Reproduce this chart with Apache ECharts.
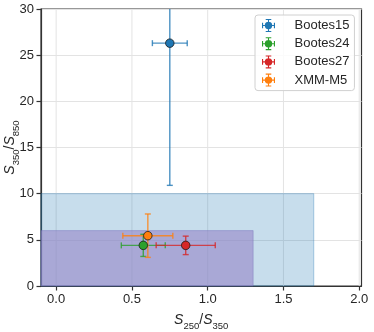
<!DOCTYPE html>
<html>
<head>
<meta charset="utf-8">
<script src="https://cdn.jsdelivr.net/npm/echarts@6/dist/echarts.min.js"></script>
<style>html,body{margin:0;padding:0;background:#fff}#c{width:374px;height:332px}</style>
</head>
<body>
<div id="c"></div>
<script>
// ---- data ----
const names = ['Bootes15', 'Bootes24', 'Bootes27', 'XMM-M5'];
const xVals = [0.75, 0.575, 0.855, 0.605];
const yVals = [26.3, 4.4, 4.4, 5.45];
const xErr = [0.115, 0.145, 0.195, 0.165];
const yErrLow = [15.4, 1.2, 1.0, 2.35];
const yErrHigh = [15.4, 1.2, 1.0, 2.35];
const colors = ['#1f77b4', '#2ca02c', '#d62728', '#ff7f0e'];
// shaded regions: [x0, x1, y0, y1]
const regionX0 = [-0.1, -0.1];
const regionX1 = [1.7, 1.3];
const regionY0 = [0, 0];
const regionY1 = [10, 6];
const regionFill = ['rgba(31,119,180,0.25)', 'rgba(150,135,200,0.62)'];
const regionEdge = ['rgba(31,119,180,0.35)', 'rgba(110,100,180,0.35)'];
const xTicks = [0, 0.5, 1.0, 1.5, 2.0];
const xTickLabels = ['0.0', '0.5', '1.0', '1.5', '2.0'];
const yTicks = [0, 5, 10, 15, 20, 25, 30];

const FONT = 'Liberation Sans';
const TXT = '#262626';

const chart = echarts.init(document.getElementById('c'), null, {renderer: 'canvas'});

const series = [];

// vertical grid lines from x ticks
series.push({
  type: 'custom', silent: true, z: 0,
  data: xTicks.map(v => [v]),
  renderItem: (params, api) => {
    const p0 = api.coord([api.value(0), 0]);
    const p1 = api.coord([api.value(0), 30]);
    return {type: 'line', shape: {x1: p0[0], y1: p0[1], x2: p1[0], y2: p1[1]},
      style: {stroke: '#e3e3e3', lineWidth: 1}};
  }
});

// shaded regions
regionX0.forEach((_, i) => {
  series.push({
    type: 'custom', silent: true, z: 1 + i,
    data: [[regionX0[i], regionX1[i], regionY0[i], regionY1[i]]],
    renderItem: (params, api) => {
      const a = api.coord([api.value(0), api.value(3)]);
      const b = api.coord([api.value(1), api.value(2)]);
      return {type: 'rect', shape: {x: a[0], y: a[1], width: b[0] - a[0], height: b[1] - a[1]},
        style: {fill: regionFill[i], stroke: regionEdge[i], lineWidth: 1}};
    }
  });
});

// error bars and points
names.forEach((n, i) => {
  series.push({
    type: 'custom', silent: true, z: 5, clip: true,
    data: [[xVals[i], yVals[i], xVals[i] - xErr[i], xVals[i] + xErr[i], yVals[i] - yErrLow[i], yVals[i] + yErrHigh[i]]],
    renderItem: (params, api) => {
      const c = api.coord([api.value(0), api.value(1)]);
      const xl = api.coord([api.value(2), api.value(1)]);
      const xr = api.coord([api.value(3), api.value(1)]);
      const yb = api.coord([api.value(0), api.value(4)]);
      const yt = api.coord([api.value(0), api.value(5)]);
      const cap = 3;
      const st = {stroke: colors[i], lineWidth: 1.4, opacity: 0.8};
      const L = (x1, y1, x2, y2) => ({type: 'line', shape: {x1, y1, x2, y2}, style: st});
      return {type: 'group', children: [
        L(xl[0], c[1], xr[0], c[1]),
        L(xl[0], c[1] - cap, xl[0], c[1] + cap),
        L(xr[0], c[1] - cap, xr[0], c[1] + cap),
        L(c[0], yb[1], c[0], yt[1]),
        L(c[0] - cap, yb[1], c[0] + cap, yb[1]),
        L(c[0] - cap, yt[1], c[0] + cap, yt[1])
      ]};
    }
  });
  series.push({
    type: 'scatter', name: n, z: 6,
    data: [[xVals[i], yVals[i]]],
    symbol: 'circle', symbolSize: 8.5,
    itemStyle: {color: colors[i], borderColor: '#1a1a1a', borderWidth: 0.8, opacity: 1}
  });
});

const icon = 'path://M0 6.4H14V7.6H0Z M0 4H1.2V10H0Z M12.8 4H14V10H12.8Z M6.4 0H7.6V14H6.4Z M4 0H10V1.2H4Z M4 12.8H10V14H4Z M7 3A4 4 0 1 1 7 11A4 4 0 1 1 7 3Z';

const richName = {
  i: {fontFamily: FONT, fontStyle: 'italic', fontSize: 14, color: TXT, lineHeight: 18, verticalAlign: 'top'},
  n: {fontFamily: FONT, fontSize: 14, color: TXT, lineHeight: 18, verticalAlign: 'top'},
  s: {fontFamily: FONT, fontSize: 9.5, color: TXT, lineHeight: 12, verticalAlign: 'bottom'}
};

const option = {
  animation: false,
  backgroundColor: '#fff',
  textStyle: {fontFamily: FONT},
  grid: {left: 41, right: 12.5, top: 9, bottom: 46, containLabel: false, outerBoundsMode: 'none',
    show: true, borderColor: '#333', borderWidth: 1.2, backgroundColor: 'transparent'},
  legend: {
    orient: 'vertical', left: 255, top: 15,
    data: names.map(n => ({name: n, icon: icon, itemStyle: {borderWidth: 0}})),
    itemWidth: 20, itemHeight: 13, itemGap: 5.2,
    padding: [4, 5, 4, 7],
    borderColor: '#d0d0d0', borderWidth: 1, borderRadius: 3,
    backgroundColor: 'rgba(255,255,255,0.85)',
    textStyle: {fontFamily: FONT, fontSize: 13, color: TXT, padding: [0, 0, 0, 11]}
  },
  xAxis: {
    type: 'value', min: -0.1, max: 2.015,
    axisLine: {show: true, onZero: false, lineStyle: {color: '#333', width: 1.2}},
    axisTick: {show: true, length: 4.5, customValues: xTicks, lineStyle: {color: '#333', width: 1.2}},
    axisLabel: {customValues: xTicks, formatter: v => xTickLabels[xTicks.indexOf(+v)] ?? (+v).toFixed(1), fontFamily: FONT, fontSize: 13, color: TXT, margin: 7},
    splitLine: {show: false},
    name: '{i|S}{s|250}{n|/}{i|S}{s|350}', nameLocation: 'middle', nameGap: 27, nameMoveOverlap: false,
    nameTextStyle: {rich: richName}
  },
  yAxis: {
    type: 'value', min: 0, max: 30, interval: 5,
    axisLine: {show: true, onZero: false, lineStyle: {color: '#333', width: 1.2}},
    axisTick: {show: true, length: 4.5, lineStyle: {color: '#333', width: 1.2}},
    axisLabel: {fontFamily: FONT, fontSize: 13, color: TXT, margin: 7},
    splitLine: {show: true, lineStyle: {color: '#e3e3e3', width: 1}},
    name: '{i|S}{s|350}{n|/}{i|S}{s|850}', nameLocation: 'middle', nameGap: 20, nameRotate: 90, nameMoveOverlap: false,
    nameTextStyle: {rich: richName}
  },
  series: series
};
chart.setOption(option);
</script>
</body>
</html>
